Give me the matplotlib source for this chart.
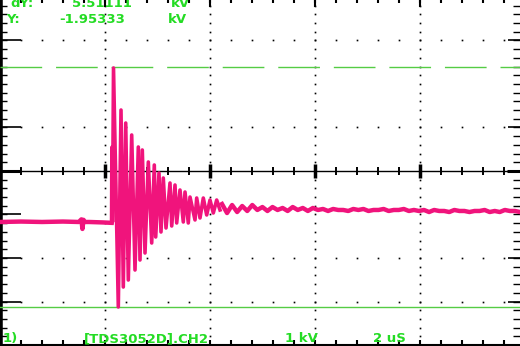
import numpy as np
import matplotlib.pyplot as plt

# scope setup
ch_label = "1) [TDS3052D].CH2"
scale_label = "1 kV"
time_label = "2 uS"
kv_per_div = 1.0
ch2_pos = -1.172          # ground level of CH2, div from centre
cursor_y = -1.95333       # kV
cursor_dy = 5.51111       # kV

# waveform: time in us, voltage in kV
pre_t = [0.00, 0.8, 1.6, 2.4, 3.00, 3.10, 3.14, 3.18, 3.24, 3.40, 3.9, 4.25]
pre_v = [0.00, 0.01, 0.00, 0.01, 0.00, 0.06, -0.16, 0.05, 0.00, 0.00, -0.01, -0.02]

ring_t = [4.25, 4.262, 4.285, 4.324, 4.507, 4.610, 4.697, 4.789, 4.888,
          5.017, 5.143, 5.269, 5.333, 5.421, 5.524, 5.650, 5.779, 5.878, 5.931,
          6.057, 6.133, 6.221, 6.324, 6.476, 6.541, 6.667, 6.731, 6.857, 6.983,
          7.048, 7.173, 7.238, 7.429, 7.493, 7.619, 7.745, 7.874,
          8.000, 8.126, 8.255, 8.381]
ring_v = [-0.02, 1.72, 0.0, 3.54, -1.954, 2.574, -1.495, 2.275, -1.334,
          2.000, -1.104, 1.724, -0.874, 1.655, -0.713, 1.379, -0.483, 1.310, -0.345,
          1.126, -0.230, 1.011, -0.138, 0.896, -0.092, 0.850, -0.023, 0.735, 0.000,
          0.689, -0.023, 0.574, 0.046, 0.551, 0.092, 0.551, 0.161,
          0.505, 0.207, 0.505, 0.276]

tail_t0 = 8.457   # us, first tail sample
tail_dt = 0.1924  # us between tail samples
tail_v = [0.413, 0.206, 0.390, 0.229,
          0.367, 0.253, 0.390, 0.276, 0.344,
          0.253, 0.344, 0.276, 0.322, 0.253, 0.344, 0.276, 0.322, 0.253, 0.322,
          0.276, 0.299, 0.253, 0.299, 0.276, 0.276, 0.253, 0.299, 0.276, 0.299,
          0.253, 0.276, 0.276, 0.299, 0.253, 0.276, 0.276, 0.299, 0.253, 0.276,
          0.253, 0.276, 0.229, 0.276, 0.253, 0.253, 0.229, 0.276, 0.253, 0.253,
          0.229, 0.253, 0.253, 0.276, 0.229, 0.253, 0.229, 0.276, 0.253, 0.253, 0.229]
tail_t = tail_t0 + tail_dt * np.arange(len(tail_v))

PINK = '#f0147c'
GREEN_TXT = '#24dc24'
GREEN_LN = '#55cc44'
K = 'black'

PX_X = 1 / 26.25   # us per pixel
PX_Y = 1 / 43.5    # div per pixel
W_US = 520 * PX_X
TOP = 171 * PX_Y
BOT = -175 * PX_Y


def to_div(v):
    return np.asarray(v) / kv_per_div + ch2_pos


fig = plt.figure(figsize=(5.2, 3.46), dpi=100)
ax = fig.add_axes([0, 0, 1, 1])
ax.set_xlim(0, W_US)
ax.set_ylim(BOT, TOP)
ax.axis('off')

# graticule
minor_y = np.arange(-20, 20) * 0.2
minor_x = np.arange(1, 25) * 0.8
major_x = [4, 8, 12, 16]

ax.axvline(0, color=K, lw=4)
ax.hlines(minor_y, 0, 7 * PX_X, color=K, lw=1)
ax.hlines([3, 1, -1, -2, -3], 0, 21 * PX_X, color=K, lw=1.2)
ax.hlines(minor_y, W_US - 7 * PX_X, W_US, color=K, lw=1)
ax.hlines([3, 1, -2, -3], W_US - 12 * PX_X, W_US, color=K, lw=1.2)

ax.axhline(0, color=K, lw=1)
ax.hlines(0, 0, 20 * PX_X, color=K, lw=2.2)
ax.hlines(0, W_US - 13 * PX_X, W_US, color=K, lw=2.2)
ax.vlines(minor_x, -4 * PX_Y, 4 * PX_Y, color=K, lw=1.4)
ax.vlines(major_x, -7 * PX_Y, 7 * PX_Y, color=K, lw=2.5)

ax.axhline(-4.0, color=K, lw=1.5)
ax.vlines(minor_x, -4.0, -4.0 + 5 * PX_Y, color=K, lw=1.5)
ax.vlines(minor_x, TOP - 3 * PX_Y, TOP, color=K, lw=1.5)
ax.vlines(major_x, TOP - 7 * PX_Y, TOP, color=K, lw=1.5)

for xg in major_x:
    ax.plot([xg] * len(minor_y), minor_y, ls='none', marker='s', ms=1.2,
            mew=0, color=K)
for yg in [3, 1, -2, -3]:
    ax.plot(minor_x, [yg] * len(minor_x), ls='none', marker='s', ms=1.2,
            mew=0, color=K)

# cursors
ax.axhline(to_div(cursor_y + cursor_dy), color=GREEN_LN, lw=1, dashes=(30, 10))
ax.axhline(to_div(cursor_y), color=GREEN_LN, lw=1)

# waveform
ax.plot(pre_t, to_div(pre_v), color=PINK, lw=3.2)
ax.plot(ring_t, to_div(ring_v), color=PINK, lw=2.6)
ax.plot(tail_t, to_div(tail_v), color=PINK, lw=3.2)


def px_text(x, y, s):
    # x = centre of the word on screen, y = baseline, both in pixels
    fig.text(x / 520, 1 - y / 346, s, color=GREEN_TXT, fontsize=9.5,
             fontweight='bold', family='DejaVu Sans', va='baseline', ha='center')


px_text(22, 7, "dY:")
px_text(102, 7, f"{cursor_dy:.5f}")
px_text(180, 7, "kV")
px_text(13, 23, "Y:")
px_text(92, 23, f"{cursor_y:.5f}")
px_text(177, 23, "kV")

px_text(10, 342, ch_label.split(' ')[0])
px_text(146, 342, ch_label.split(' ')[1])
px_text(301, 342, scale_label)
px_text(389, 342, time_label)

fig.savefig('out.png', dpi=100)
